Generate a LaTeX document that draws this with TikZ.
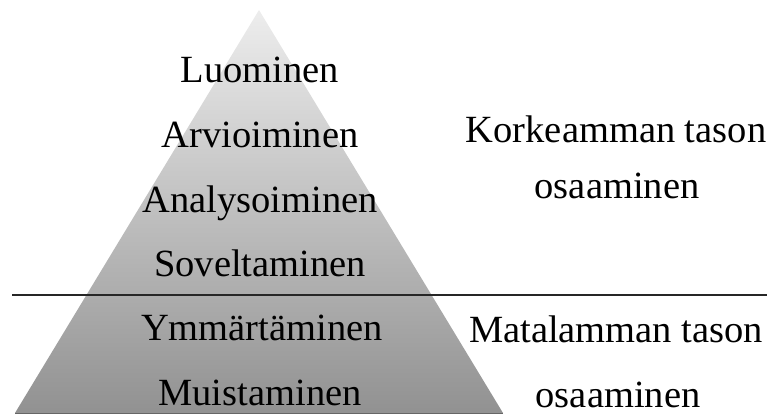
\documentclass[tikz,border=0pt]{standalone}
\usepackage{fontspec}
\setmainfont{Liberation Serif}
\begin{document}
\begin{tikzpicture}[x=1pt,y=-1pt,
  lbl/.style={anchor=base,inner sep=0pt,font=\fontsize{38.5}{40}\selectfont,text=black}]
\useasboundingbox (0,0) rectangle (770,415);
% pyramid
\coordinate (apex) at (259,10);
\coordinate (bl) at (15,413);
\coordinate (br) at (503,413);
\shade[top color=black!7,bottom color=black!43] (apex) -- (br) -- (bl) -- cycle;
\draw[black!60,line width=0.8pt] (bl) -- (br);
% divider
\coordinate (dl) at (12,295);
\coordinate (dr) at (767,295);
\draw[black!85,line width=1.4pt] (dl) -- (dr);
% levels
\node[lbl] (luo) at (260,82) {Luominen};
\node[lbl] (arv) at (260,147) {Arvioiminen};
\node[lbl] (ana) at (260,212) {Analysoiminen};
\node[lbl] (sov) at (260,276) {Soveltaminen};
\node[lbl] (ymm) at (262,340) {Ymmärtäminen};
\node[lbl] (mui) at (260,405) {Muistaminen};
% right labels
\node[lbl] (kor1) at (616,142) {Korkeamman tason};
\node[lbl] (kor2) at (617,198) {osaaminen};
\node[lbl] (mat1) at (616,342) {Matalamman tason};
\node[lbl] (mat2) at (618,407) {osaaminen};
\end{tikzpicture}
\end{document}
